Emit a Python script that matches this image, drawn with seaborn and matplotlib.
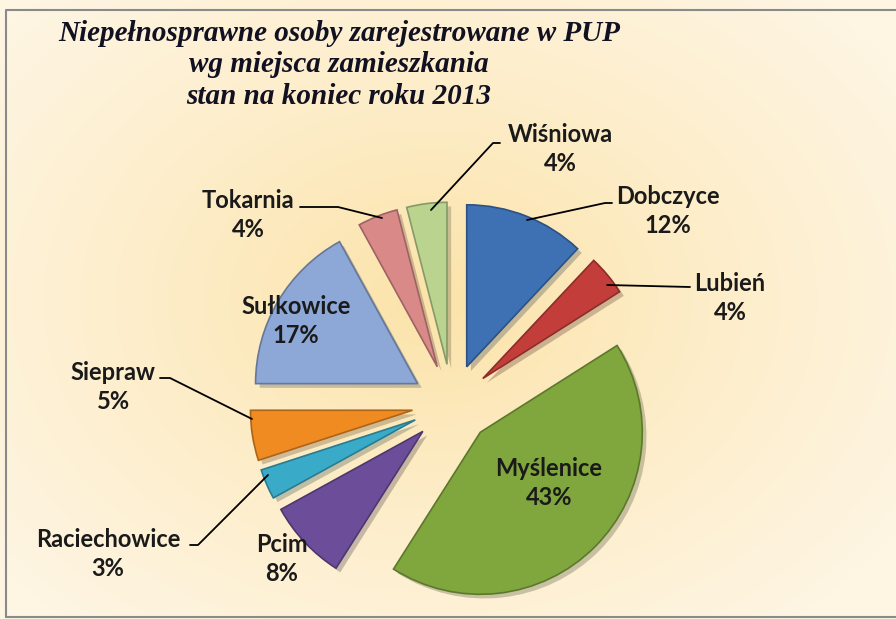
import numpy as np
import seaborn as sns
import matplotlib.pyplot as plt
import matplotlib.patheffects as pe
from matplotlib.colors import to_rgb, LinearSegmentedColormap

# data
gminy = ["Dobczyce", "Lubień", "Myślenice", "Pcim", "Raciechowice",
         "Siepraw", "Sułkowice", "Tokarnia", "Wiśniowa"]
procent = [12, 4, 43, 8, 3, 5, 17, 4, 4]
kolory = ["#3D71B4", "#C33E3B", "#80A63E", "#6B4D9A", "#39ABC9",
          "#F08B22", "#8DA7D6", "#D98A88", "#BAD490"]
tytul = "Niepełnosprawne osoby zarejestrowane w PUP\nwg miejsca zamieszkania\nstan na koniec roku 2013"

sns.set_theme(style="white")
W, H = 896, 619
fig = plt.figure(figsize=(W / 100, H / 100), dpi=100)
ax = fig.add_axes([0, 0, 1, 1])

# pie in pixel coordinates (y grows downward), explode is in pixels too
wedges, _ = ax.pie(procent, colors=kolory, center=(452, 404), radius=162,
                   startangle=-90, counterclock=True,
                   explode=[40] * len(procent))
for w, c in zip(wedges, kolory):
    dark = tuple(v * 0.72 for v in to_rgb(c))
    w.set_edgecolor(dark)
    w.set_linewidth(1.2)
    w.set_path_effects([pe.SimplePatchShadow(offset=(3, -3), alpha=0.25), pe.Normal()])

ax.set_xlim(0, W)
ax.set_ylim(H, 0)
ax.set_aspect("equal")
ax.axis("off")

# background gradient
yy, xx = np.mgrid[0:H, 0:W]
d = np.sqrt(((xx - 430) / 560) ** 2 + ((yy - 300) / 420) ** 2)
cmap = LinearSegmentedColormap.from_list("bg", ["#FBE3A9", "#FDEDC9", "#FEF5E3"])
ax.imshow(d, cmap=cmap, extent=(0, W, H, 0), zorder=-5, vmin=0, vmax=1.0)
ax.plot([6, 6, 900], [617, 10, 10], color="#8a8a8a", lw=1.5, zorder=-4)
ax.plot([6, 900], [617, 617], color="#8a8a8a", lw=1.5, zorder=-4)

# title
ax.text(339, 65, tytul, ha="center", va="center", fontsize=21, fontweight="bold",
        fontstyle="italic", family="Liberation Serif", color="#111122", linespacing=1.22)

# labels
pozycje = [(668, 211), (730, 298), (549, 483), (282, 559), (108, 554),
           (113, 387), (296, 321), (248, 215), (560, 149)]
for g, p, (x, y) in zip(gminy, procent, pozycje):
    ax.text(x, y, f"{g}\n{p}%", ha="center", va="center", fontsize=17,
            fontweight="bold", family="Lato", color="#1a1a1a", linespacing=1.35)

# leader lines
linie = [
    ([527, 605, 612], [220, 203, 203]),
    ([607, 690], [285, 287]),
    ([300, 338, 382], [207, 207, 218]),
    ([160, 170, 252], [378, 378, 419]),
    ([190, 198, 268], [545, 545, 475]),
    ([431, 493, 500], [210, 143, 143]),
]
for xs, ys in linie:
    ax.plot(xs, ys, color="black", lw=1.3)

fig.savefig("out.png", dpi=100)
